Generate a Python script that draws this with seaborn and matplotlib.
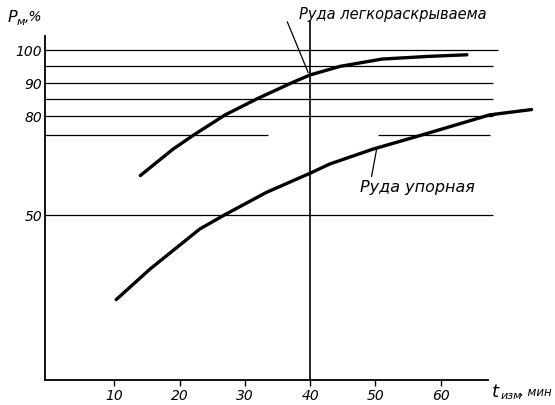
import pandas as pd
import matplotlib
matplotlib.use("Agg")
import matplotlib.pyplot as plt
import seaborn as sns

# Recovery curves: extraction time (min) vs recovery P_m (%)
time_easy = [14.0, 19.0, 22.4, 27.0, 31.8, 37.4, 40.0, 44.6, 51.0, 58.0, 64.0]
recovery_easy = [61.8, 69.8, 74.4, 80.2, 85.0, 90.1, 92.3, 94.9, 97.1, 97.9, 98.4]
time_refr = [10.3, 15.5, 23.1, 27.0, 33.3, 40.1, 43.0, 49.6, 57.3, 67.5, 73.9]
recovery_refr = [24.2, 33.5, 45.6, 50.0, 56.7, 62.6, 65.3, 69.8, 74.2, 80.2, 81.8]

label_easy = "Руда легкораскрываема"
label_refr = "Руда упорная"

x_ticks = [10, 20, 30, 40, 50, 60]
y_ticks = [100, 90, 80, 50]
grid_levels = [100, 95, 90, 85, 80, 50]
level_74 = 74
marker_time = 40

df = pd.concat([
    pd.DataFrame({"t": time_easy, "P": recovery_easy, "ore": label_easy}),
    pd.DataFrame({"t": time_refr, "P": recovery_refr, "ore": label_refr}),
])

sns.set_theme(style="white")
plt.rcParams["font.family"] = ["DejaVu Sans"]
plt.rcParams["font.style"] = "italic"
plt.rcParams["text.color"] = "black"
plt.rcParams["xtick.labelcolor"] = "black"
plt.rcParams["ytick.labelcolor"] = "black"

W, H = 555, 406
fig = plt.figure(figsize=(W / 100, H / 100), dpi=100)
ax = fig.add_axes([45 / W, 25.5 / H, 499.6 / W, 369.6 / H])
ax.set_xlim(-0.6, 75.9)
ax.set_ylim(0, 112)

# reference grid lines
for lvl in grid_levels:
    ax.hlines(lvl, -0.6, 68.8 if lvl == 100 else 68.0, color="black", lw=0.9)
ax.hlines(level_74, -0.6, 33.5, color="black", lw=0.9)
ax.hlines(level_74, 50.4, 67.5, color="black", lw=0.9)
ax.vlines(marker_time, 0, 109, color="black", lw=1.2)

sns.lineplot(data=df, x="t", y="P", hue="ore", palette=["black", "black"],
             estimator=None, sort=False, lw=2.4, legend=False, ax=ax,
             solid_joinstyle="round", solid_capstyle="round")

# axes
for side in ["top", "right"]:
    ax.spines[side].set_visible(False)
for side in ["left", "bottom"]:
    ax.spines[side].set_color("black")
    ax.spines[side].set_linewidth(1.3)
ax.spines["left"].set_bounds(0, 104)
ax.spines["bottom"].set_bounds(-0.6, 67.2)

ax.set_xticks(x_ticks)
ax.set_xticklabels([str(v) for v in x_ticks], fontsize=10, style="italic", color="black")
ax.set_yticks(y_ticks)
ax.set_yticklabels([str(v) for v in y_ticks], fontsize=10, style="italic", color="black")
ax.tick_params(axis="x", length=4, width=1, color="black", pad=2, direction="out", bottom=True)
ax.tick_params(axis="y", length=0, pad=2, left=True)
ax.set_xlabel("")
ax.set_ylabel("")

# axis titles
def ftext(x, y, s, **kw):
    fig.text(x / W, 1 - y / H, s, style="italic", color="black", **kw)

ftext(8, 18, "P", fontsize=11.5, va="center", ha="left")
ftext(17, 22, "м", fontsize=8, va="center", ha="left")
ftext(25, 17, ",%", fontsize=10, va="center", ha="left")
ftext(492, 392, "t", fontsize=13, va="center", ha="left")
ftext(501, 396, "изм", fontsize=8, va="center", ha="left")
ftext(520, 393, ", мин", fontsize=8.5, va="center", ha="left")

# curve labels with leader lines
ax.text(38.3, 111.0, label_easy, fontsize=10.5, style="italic", ha="left", va="center", color="black")
ax.plot([36.5, 39.7], [108.4, 93.0], color="black", lw=0.9)
ax.text(47.6, 58.5, label_refr, fontsize=11.5, style="italic", ha="left", va="center", color="black")
ax.plot([50.2, 49.4], [70.0, 61.5], color="black", lw=0.9)

fig.savefig("out.png", dpi=100, facecolor="white")
